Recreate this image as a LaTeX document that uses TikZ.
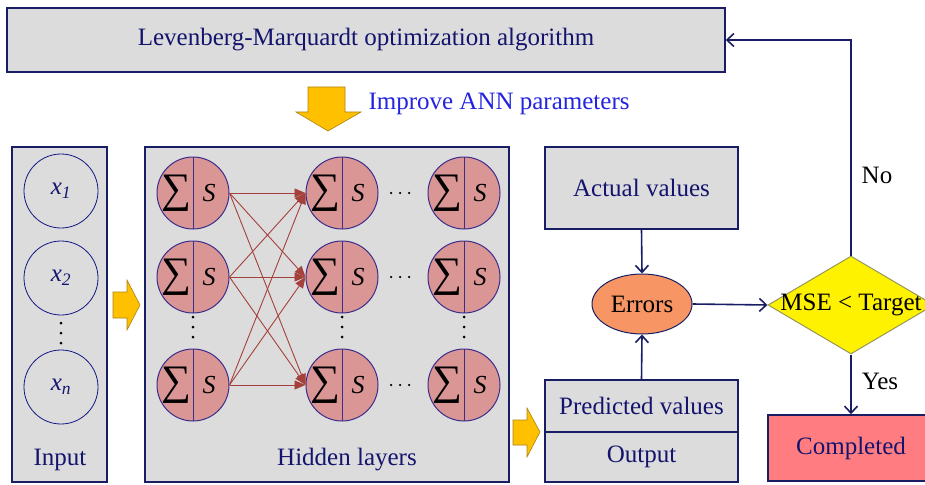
\documentclass[tikz,border=0pt]{standalone}
\usepackage{fontspec}
\IfFontExistsTF{LiberationSerif-Regular.ttf}
  {\setmainfont{LiberationSerif-Regular.ttf}[ItalicFont=LiberationSerif-Italic.ttf,
     BoldFont=LiberationSerif-Bold.ttf]}
  {\setmainfont{Liberation Serif}}
\usetikzlibrary{shapes.geometric,arrows.meta}

\definecolor{navy}{RGB}{25,30,100}
\definecolor{navytext}{RGB}{20,20,110}
\definecolor{annblue}{RGB}{35,35,225}
\definecolor{boxgrey}{RGB}{220,220,220}
\definecolor{neuronfill}{RGB}{217,150,148}
\definecolor{neuronline}{RGB}{60,45,140}
\definecolor{synapse}{RGB}{165,65,60}
\definecolor{arrowyellow}{RGB}{255,192,0}
\definecolor{arrowedge}{RGB}{170,130,20}
\definecolor{errorfill}{RGB}{247,150,100}
\definecolor{donefill}{RGB}{255,125,128}
\definecolor{olive}{RGB}{150,150,90}

\tikzset{
  greybox/.style={draw=navy, line width=1.5pt, fill=boxgrey, inner sep=0pt,
    text=navytext, font=\fontsize{25}{28}\selectfont},
  inputnode/.style={circle, draw=navy!80!blue, line width=0.8pt, minimum size=74pt,
    inner sep=0pt, text=navytext, font=\fontsize{25}{28}\selectfont\itshape},
  neuron/.style={circle, draw=neuronline, line width=1pt, fill=neuronfill,
    minimum size=72pt, inner sep=0pt,
    path picture={
      \draw[neuronline, line width=1pt] (path picture bounding box.north) -- (path picture bounding box.south);
      \node at ([xshift=-17pt]path picture bounding box.center) {\fontsize{42}{42}\selectfont ∑};
      \node at ([xshift=16pt]path picture bounding box.center) {\fontsize{26}{28}\selectfont\itshape S};
    }},
  link/.style={draw=navy, line width=1.6pt, -{Straight Barb[length=7pt,width=13pt,line width=1.6pt]}},
  synapse/.style={draw=synapse, line width=0.9pt, -{Triangle[length=11pt,width=9pt]}},
  blockarrow/.style={fill=arrowyellow, draw=arrowedge, line width=0.6pt},
  caption/.style={font=\fontsize{25}{28}\selectfont},
  dot/.style={circle, fill=black, inner sep=0pt, minimum size=3pt}
}

\begin{document}
\begin{tikzpicture}[x=1pt,y=-1pt]
\useasboundingbox (0,0) rectangle (925,484);
\clip (0,0) rectangle (925,484);

% optimizer box on top
\node[greybox, minimum width=718pt, minimum height=64pt] (lm) at (366,40)
  {Levenberg-Marquardt optimization algorithm};

% downward block arrow with its caption
\draw[blockarrow] (308,87) -- (345,87) -- (345,112) -- (361,112) -- (328,131)
  -- (296,112) -- (308,112) -- cycle;
\node[caption, text=annblue, anchor=west] (improve) at (365,104) {Improve ANN parameters};

% input layer
\node[greybox, minimum width=95pt, minimum height=335pt] (inbox) at (59.5,314.5) {};
\node[inputnode] (x1) at (61,191) {x\textsubscript{1}};
\node[inputnode] (x2) at (61,278) {x\textsubscript{2}};
\node[inputnode] (xn) at (61,387) {x\textsubscript{n}};
\node[dot] (xd1) at (61,323) {};
\node[dot] (xd2) at (61,333) {};
\node[dot] (xd3) at (61,343) {};
\node[caption, text=navytext] (inlabel) at (60,460) {Input};

% arrow from input to hidden layers
\draw[blockarrow] (113,292) -- (127,292) -- (127,280) -- (140,305) -- (127,330)
  -- (127,318) -- (113,318) -- cycle;

% hidden layers
\node[greybox, minimum width=364pt, minimum height=335pt] (hidbox) at (327,314.5) {};
\node[neuron] (h11) at (193,193) {};
\node[neuron] (h12) at (193,277) {};
\node[neuron] (h13) at (193,385) {};
\node[neuron] (h21) at (342,193) {};
\node[neuron] (h22) at (342,277) {};
\node[neuron] (h23) at (342,385) {};
\node[neuron] (h31) at (464,193) {};
\node[neuron] (h32) at (464,277) {};
\node[neuron] (h33) at (464,385) {};

% dots between rows and between columns
\foreach \x/\c in {193/a,342/b,464/c}{
  \node[dot] (vd\c1) at (\x,317) {};
  \node[dot] (vd\c2) at (\x,327) {};
  \node[dot] (vd\c3) at (\x,337) {};
}
\foreach \y/\r in {193/a,277/b,385/c}{
  \node[dot, minimum size=2.5pt] (hd\r1) at (391,\y) {};
  \node[dot, minimum size=2.5pt] (hd\r2) at (400,\y) {};
  \node[dot, minimum size=2.5pt] (hd\r3) at (409,\y) {};
}

\draw[synapse] (h11.east) -- (h21.west);
\draw[synapse] (h11.east) -- (h22.west);
\draw[synapse] (h11.east) -- (h23.west);
\draw[synapse] (h12.east) -- (h21.west);
\draw[synapse] (h12.east) -- (h22.west);
\draw[synapse] (h12.east) -- (h23.west);
\draw[synapse] (h13.east) -- (h21.west);
\draw[synapse] (h13.east) -- (h22.west);
\draw[synapse] (h13.east) -- (h23.west);

\node[caption, text=navytext] (hidlabel) at (347,460) {Hidden layers};

% arrow from hidden layers to output
\draw[blockarrow] (513,420) -- (527,420) -- (527,408) -- (540,432) -- (527,457)
  -- (527,445) -- (513,445) -- cycle;

% output and targets
\node[greybox, minimum width=193pt, minimum height=52pt] (pred) at (641.5,406) {Predicted values};
\node[greybox, minimum width=193pt, minimum height=50pt] (out) at (641.5,457) {Output};
\node[greybox, minimum width=193pt, minimum height=82pt] (actual) at (641.5,188) {Actual values};
\node[ellipse, draw=navy, line width=1pt, fill=errorfill, minimum width=100pt,
  minimum height=60pt, inner sep=0pt, caption] (err) at (642,304) {Errors};

% stopping test
\node[diamond, draw=olive, line width=1pt, fill=yellow, minimum width=166pt,
  minimum height=98pt, inner sep=0pt] (test) at (851,305) {};
\node[caption] (testlabel) at (test.center) {MSE < Target};
\node[draw=navy, line width=1.5pt, fill=donefill, minimum width=166pt, minimum height=66pt,
  text=navytext, caption] (done) at (851,448) {Completed};

\draw[link] (actual.south) -- (err.north);
\draw[link] (pred.north) -- (err.south);
\draw[link] (err.east) -- (test.west);
\draw[link] (test.south) -- (done.north);
\draw[link] (test.north) |- (lm.east);

\node[caption] (nolabel) at (877,175) {No};
\node[caption] (yeslabel) at (880,381) {Yes};
\end{tikzpicture}
\end{document}
